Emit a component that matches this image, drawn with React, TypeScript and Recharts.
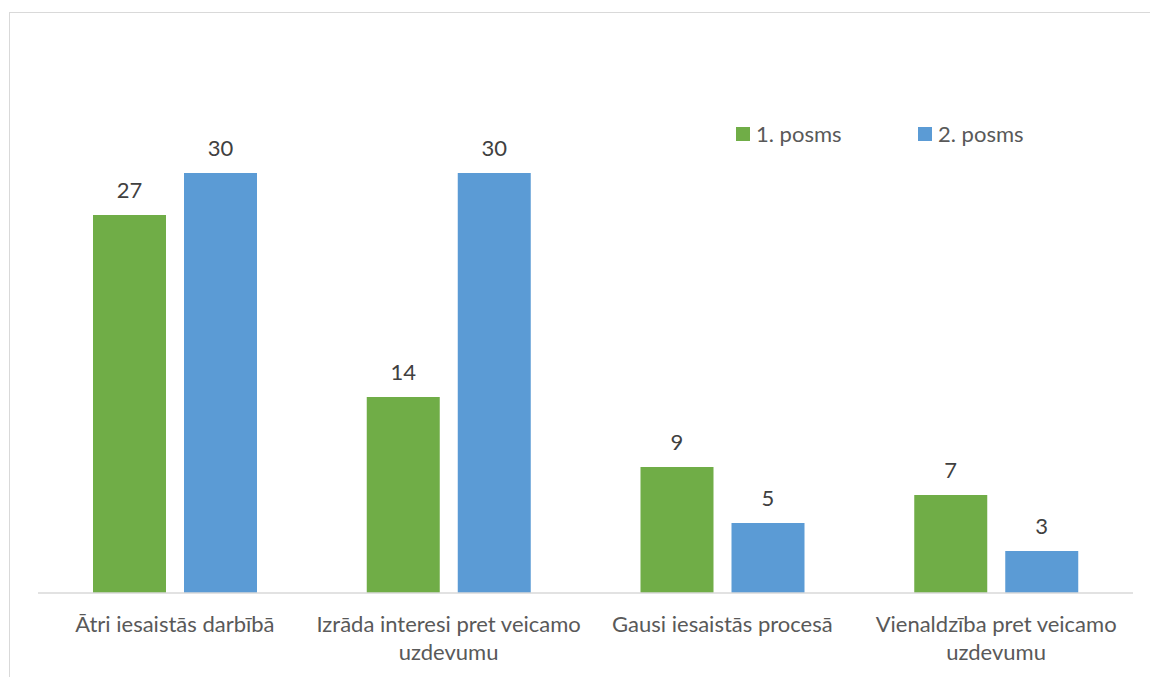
import { BarChart, Bar, XAxis, YAxis, LabelList, Legend } from 'recharts'

const categories = [
  'Ātri iesaistās darbībā',
  'Izrāda interesi pret veicamo uzdevumu',
  'Gausi iesaistās procesā',
  'Vienaldzība pret veicamo uzdevumu',
]
const posms1 = [27, 14, 9, 7]
const posms2 = [30, 30, 5, 3]
const seriesNames = ['1. posms', '2. posms']
const colors = ['#70AD47', '#5B9BD5']

const data = categories.map((name, i) => ({ name, s1: posms1[i], s2: posms2[i] }))

const FONT = 'Lato, "Open Sans", sans-serif'

// break a label into lines of at most 28 chars
function wrap(text: string, max = 28) {
  const lines: string[] = []
  let cur = ''
  for (const w of text.split(' ')) {
    const next = cur ? cur + ' ' + w : w
    if (next.length > max && cur) {
      lines.push(cur)
      cur = w
    } else {
      cur = next
    }
  }
  if (cur) lines.push(cur)
  return lines
}

function CategoryTick(props: any) {
  const { x, y, payload } = props
  const lines = wrap(payload.value)
  return (
    <text x={x} y={y} textAnchor="middle" fill="#595959" fontSize={22} fontFamily={FONT}>
      {lines.map((l, i) => (
        <tspan key={i} x={x} y={y + 31 + i * 28}>{l}</tspan>
      ))}
    </text>
  )
}

function LegendContent() {
  return (
    <div style={{ display: 'flex', fontFamily: FONT, fontSize: 22, color: '#595959' }}>
      {seriesNames.map((n, i) => (
        <div key={n} style={{ display: 'flex', alignItems: 'center', width: 182 }}>
          <span style={{ display: 'inline-block', width: 14, height: 14, background: colors[i], marginRight: 6 }} />
          <span>{n}</span>
        </div>
      ))}
    </div>
  )
}

export default function App() {
  return (
    <div style={{ position: 'absolute', left: 0, top: 0, width: 1150, height: 677, background: '#fff', overflow: 'hidden' }}>
      <div style={{ position: 'absolute', left: 9, top: 12, width: 1160, height: 700, border: '1.5px solid #d9d9d9' }} />
      <div style={{ position: 'absolute', left: 0, top: 0 }}>
        <BarChart
          width={1150}
          height={677}
          data={data}
          margin={{ top: 103, right: 17, bottom: 14, left: 38 }}
          barSize={73}
          barGap={18}
        >
          <XAxis
            dataKey="name"
            height={70}
            tickLine={false}
            axisLine={{ stroke: '#d9d9d9', strokeWidth: 1.5 }}
            tick={<CategoryTick />}
            interval={0}
          />
          <YAxis hide domain={[0, 35]} />
          <Legend
            layout="horizontal"
            verticalAlign="middle"
            align="center"
            content={<LegendContent />}
            wrapperStyle={{ position: 'absolute', left: 736, top: 120, width: 400 }}
          />
          <Bar dataKey="s1" name={seriesNames[0]} fill={colors[0]} isAnimationActive={false}>
            <LabelList dataKey="s1" position="top" offset={17} fill="#404040" fontSize={22} fontFamily={FONT} />
          </Bar>
          <Bar dataKey="s2" name={seriesNames[1]} fill={colors[1]} isAnimationActive={false}>
            <LabelList dataKey="s2" position="top" offset={17} fill="#404040" fontSize={22} fontFamily={FONT} />
          </Bar>
        </BarChart>
      </div>
    </div>
  )
}
